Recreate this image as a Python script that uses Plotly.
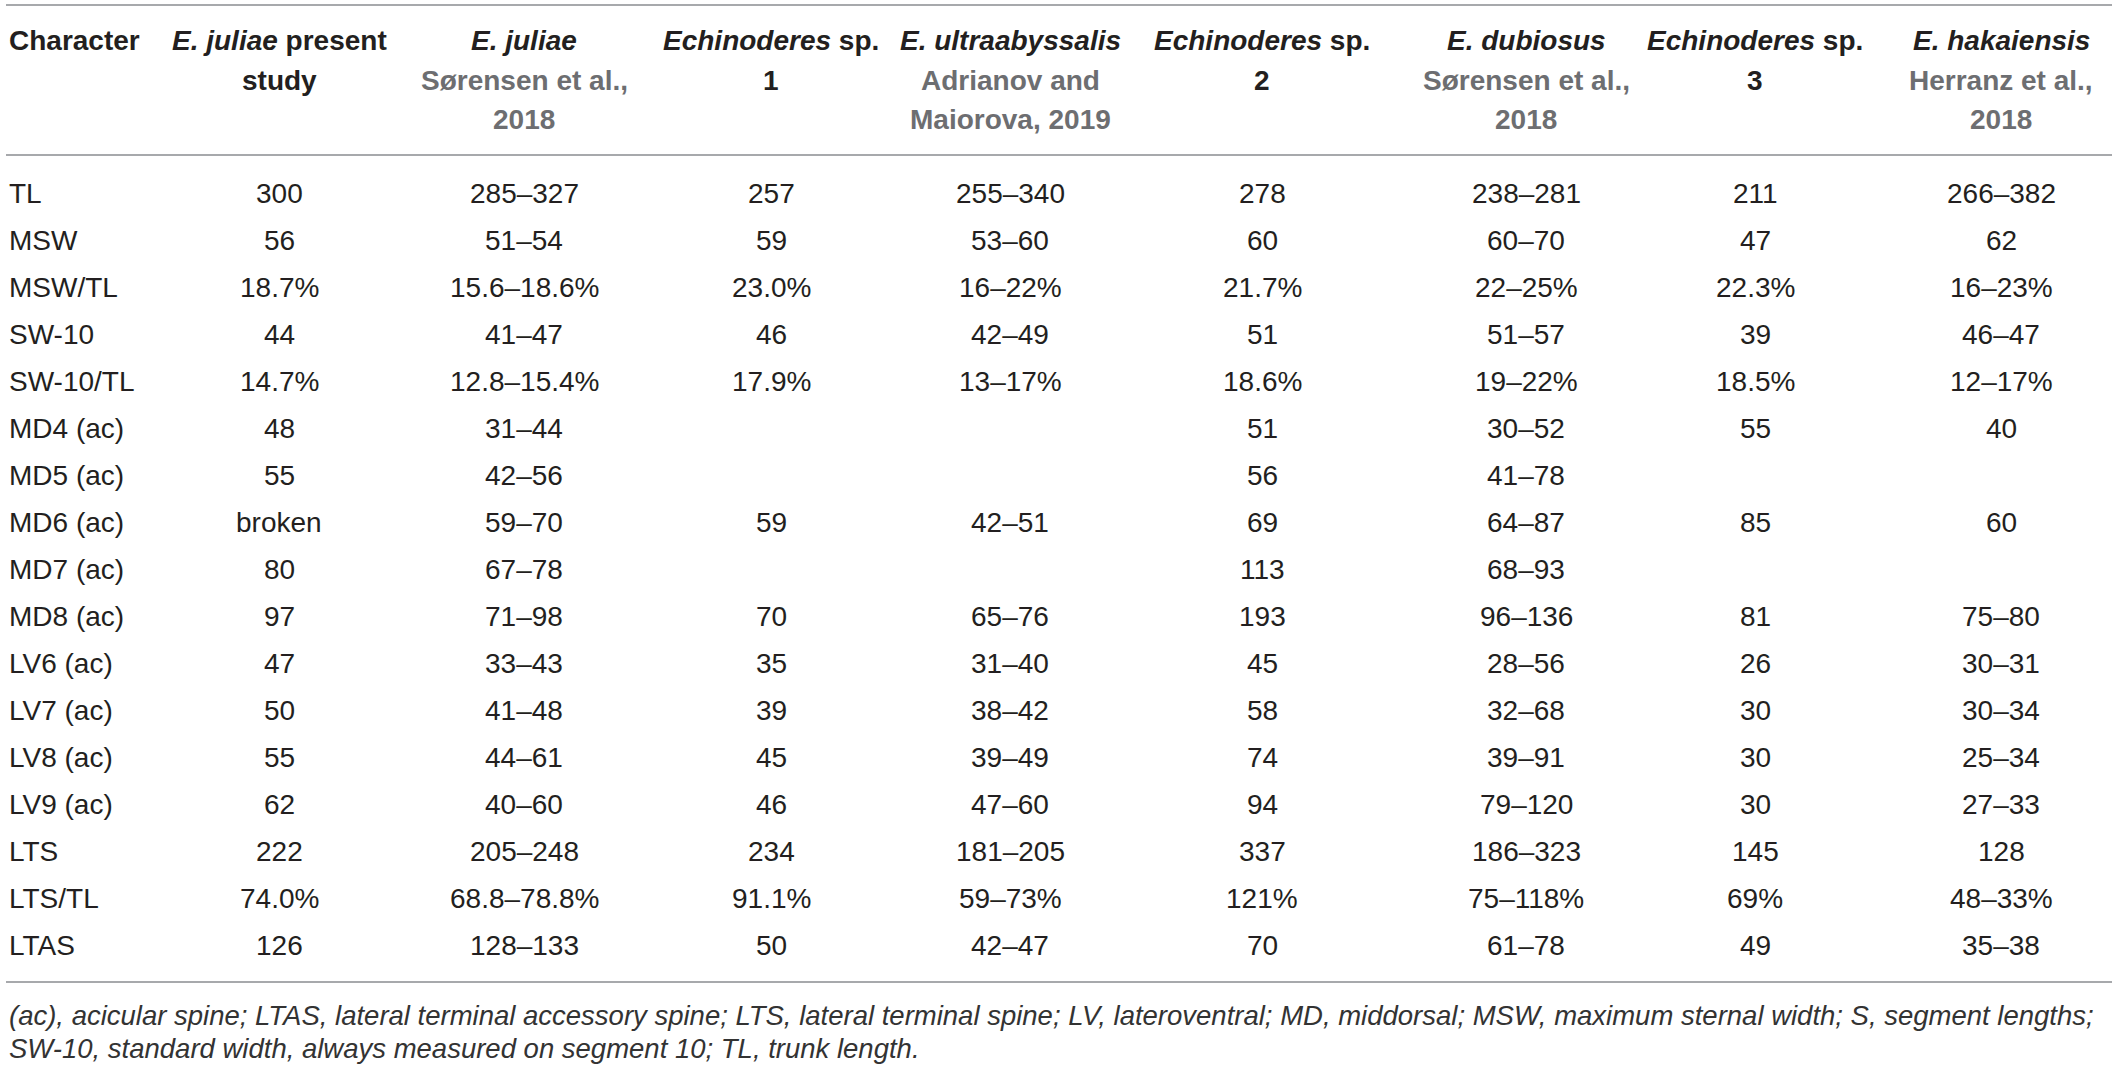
import plotly.graph_objects as go

# Filas de la tabla
characters = ["TL", "MSW", "MSW/TL", "SW-10", "SW-10/TL", "MD4 (ac)", "MD5 (ac)",
              "MD6 (ac)", "MD7 (ac)", "MD8 (ac)", "LV6 (ac)", "LV7 (ac)",
              "LV8 (ac)", "LV9 (ac)", "LTS", "LTS/TL", "LTAS"]

# Encabezados: especie, resto de la primera linea, segunda/tercera linea
species = ["E. juliae", "E. juliae", "Echinoderes", "E. ultraabyssalis",
           "Echinoderes", "E. dubiosus", "Echinoderes", "E. hakaiensis"]
species_suffix = [" present", "", " sp.", "", " sp.", "", " sp.", ""]
header_line2 = ["study", "Sørensen et al.,", "1", "Adrianov and", "2",
                "Sørensen et al.,", "3", "Herranz et al.,"]
header_line3 = ["", "2018", "", "Maiorova, 2019", "", "2018", "", "2018"]
is_reference = [False, True, False, True, False, True, False, True]

# Valores por columna
col_present = ["300", "56", "18.7%", "44", "14.7%", "48", "55", "broken", "80",
               "97", "47", "50", "55", "62", "222", "74.0%", "126"]
col_juliae = ["285–327", "51–54", "15.6–18.6%", "41–47", "12.8–15.4%", "31–44",
              "42–56", "59–70", "67–78", "71–98", "33–43", "41–48", "44–61",
              "40–60", "205–248", "68.8–78.8%", "128–133"]
col_sp1 = ["257", "59", "23.0%", "46", "17.9%", "", "", "59", "", "70", "35",
           "39", "45", "46", "234", "91.1%", "50"]
col_ultra = ["255–340", "53–60", "16–22%", "42–49", "13–17%", "", "", "42–51", "",
             "65–76", "31–40", "38–42", "39–49", "47–60", "181–205", "59–73%",
             "42–47"]
col_sp2 = ["278", "60", "21.7%", "51", "18.6%", "51", "56", "69", "113", "193",
           "45", "58", "74", "94", "337", "121%", "70"]
col_dubiosus = ["238–281", "60–70", "22–25%", "51–57", "19–22%", "30–52",
                "41–78", "64–87", "68–93", "96–136", "28–56", "32–68", "39–91",
                "79–120", "186–323", "75–118%", "61–78"]
col_sp3 = ["211", "47", "22.3%", "39", "18.5%", "55", "", "85", "", "81", "26",
           "30", "30", "30", "145", "69%", "49"]
col_hakai = ["266–382", "62", "16–23%", "46–47", "12–17%", "40", "", "60", "",
             "75–80", "30–31", "30–34", "25–34", "27–33", "128", "48–33%",
             "35–38"]
columns = [col_present, col_juliae, col_sp1, col_ultra, col_sp2, col_dubiosus,
           col_sp3, col_hakai]

footnote = ["(ac), acicular spine; LTAS, lateral terminal accessory spine; LTS, "
            "lateral terminal spine; LV, lateroventral; MD, middorsal; MSW, "
            "maximum sternal width; S, segment lengths;",
            "SW-10, standard width, always measured on segment 10; TL, trunk length."]

# Geometria (pixeles)
W, H = 2118, 1070
ROW0, ROW_H = 193, 47
LEFT_X = 7
COL_X = [279, 524, 771, 1010, 1262, 1526, 1755, 2001]
HEAD_Y = [40, 80, 119]
RULES_Y = [5, 155, 982]
FOOT_Y = [1015, 1048]


def fila(px):
    # convierte pixel vertical a unidades de fila
    return (px - ROW0) / ROW_H


FONT = "Liberation Sans, Arial, sans-serif"
TXT = "#231f20"
GRAY = "#6d6e71"

anns = []
# Encabezado
anns.append(dict(x=LEFT_X, y=fila(HEAD_Y[0]), text="<b>Character</b>",
                 xanchor="left", font=dict(size=28, color=TXT)))
for c in range(len(species)):
    anns.append(dict(x=COL_X[c], y=fila(HEAD_Y[0]),
                     text="<b><i>" + species[c] + "</i>" + species_suffix[c] + "</b>",
                     font=dict(size=28, color=TXT)))
    color2 = GRAY if is_reference[c] else TXT
    anns.append(dict(x=COL_X[c], y=fila(HEAD_Y[1]), text="<b>" + header_line2[c] + "</b>",
                     font=dict(size=28, color=color2)))
    if header_line3[c]:
        anns.append(dict(x=COL_X[c], y=fila(HEAD_Y[2]), text="<b>" + header_line3[c] + "</b>",
                         font=dict(size=28, color=GRAY)))

# Celdas
for r, name in enumerate(characters):
    anns.append(dict(x=LEFT_X, y=r, text=name, xanchor="left",
                     font=dict(size=28, color=TXT)))
    for c, col in enumerate(columns):
        if col[r]:
            anns.append(dict(x=COL_X[c], y=r, text=col[r],
                             font=dict(size=28, color=TXT)))

# Nota al pie
for i, line in enumerate(footnote):
    anns.append(dict(x=LEFT_X, y=fila(FOOT_Y[i]), text="<i>" + line + "</i>",
                     xanchor="left", font=dict(size=27.5, color="#333333")))

for a in anns:
    a.update(xref="x", yref="y", showarrow=False, yanchor="middle")
    a.setdefault("xanchor", "center")
    a["font"]["family"] = FONT

shapes = [dict(type="line", xref="x", yref="y", x0=6, x1=W - 6,
               y0=fila(py), y1=fila(py), line=dict(color="#a7a9ac", width=2))
          for py in RULES_Y]

fig = go.Figure()
fig.update_layout(
    width=W, height=H,
    margin=dict(l=0, r=0, t=0, b=0),
    paper_bgcolor="white", plot_bgcolor="white",
    xaxis=dict(range=[0, W], visible=False, fixedrange=True),
    yaxis=dict(range=[fila(H), fila(0)], visible=False, fixedrange=True),
    annotations=anns, shapes=shapes, showlegend=False,
)

fig.write_html("out.html", config={"displayModeBar": False},
               post_script="document.body.style.margin='0';")
